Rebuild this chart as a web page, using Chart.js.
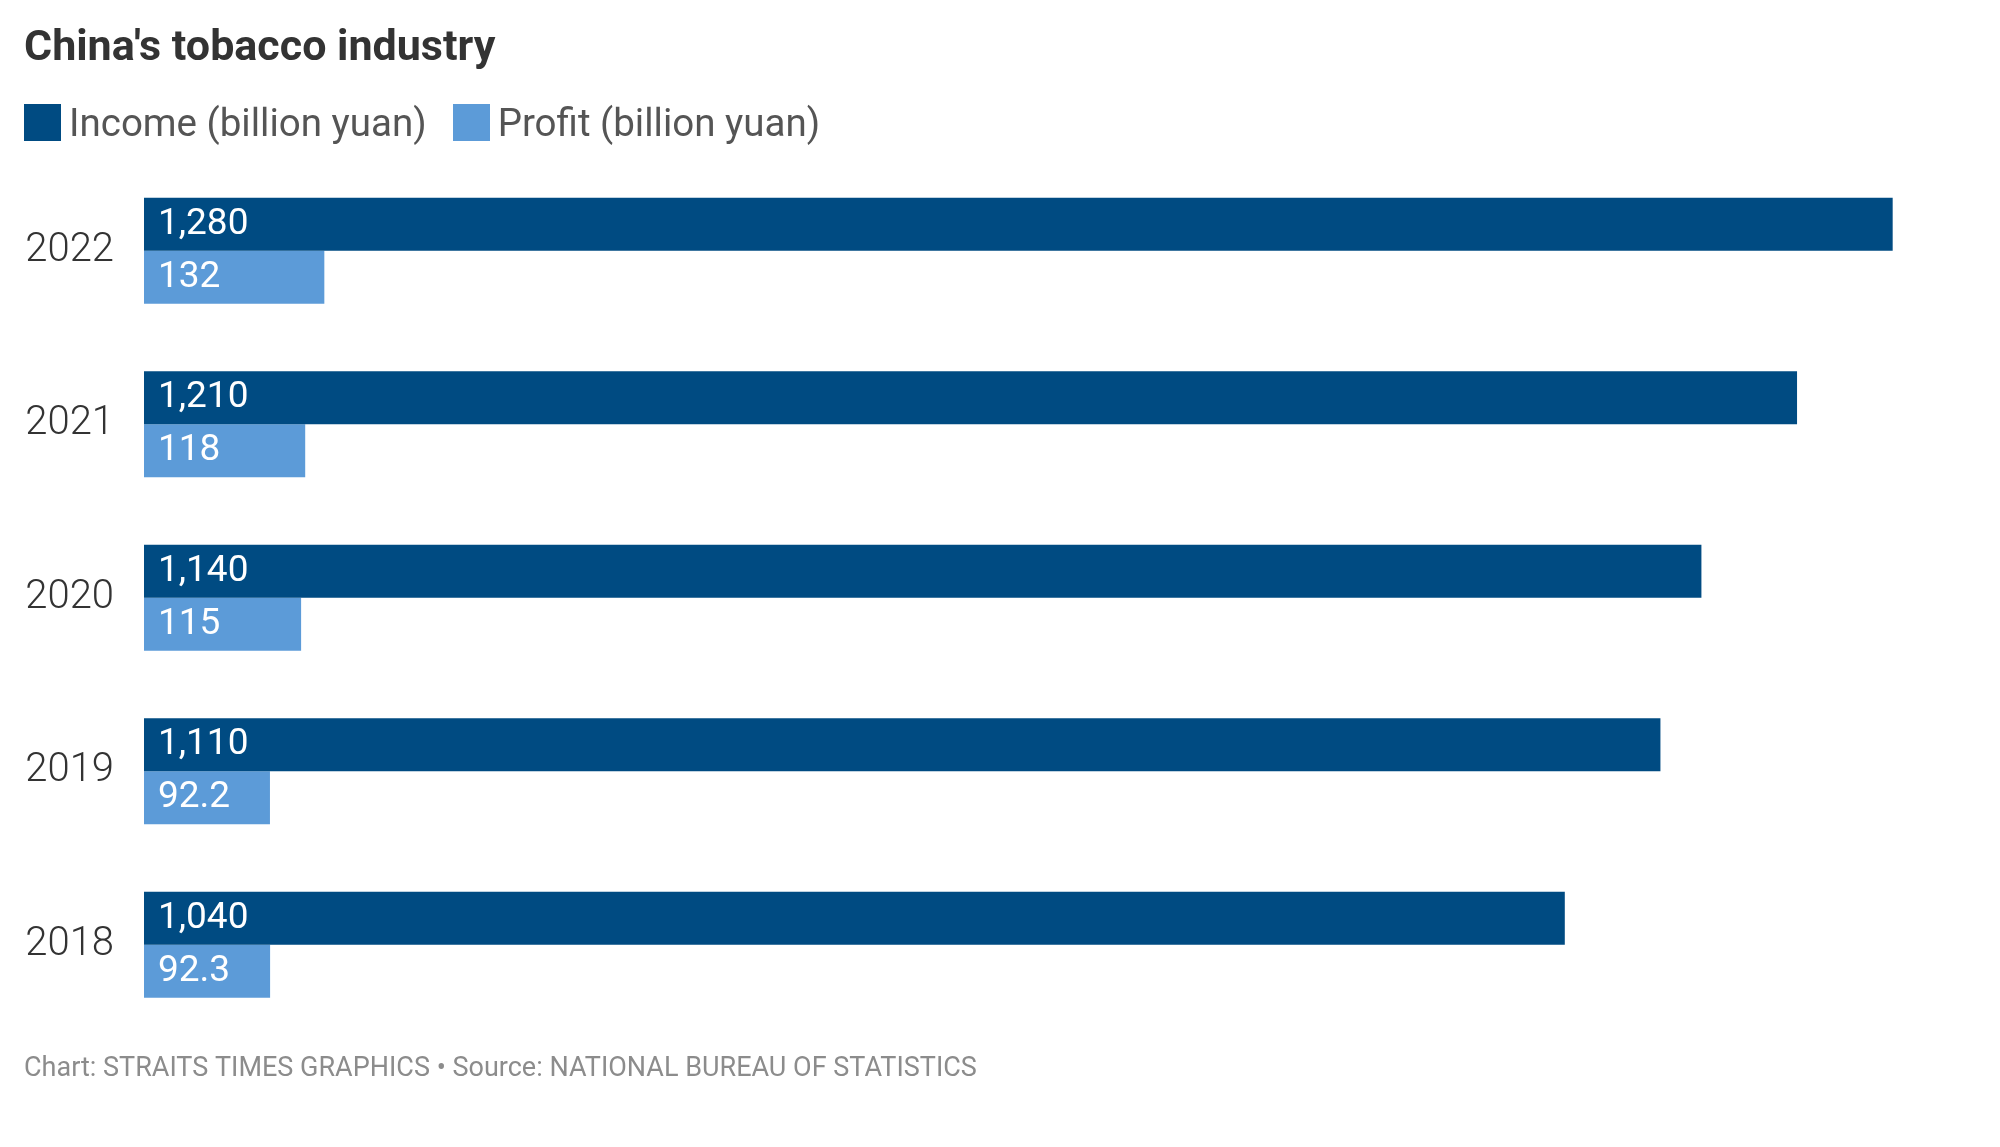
<!DOCTYPE html>
<html lang="en">
<head>
<meta charset="utf-8">
<title>China's tobacco industry</title>
<script src="https://cdn.jsdelivr.net/npm/chart.js@4.4.1/dist/chart.umd.min.js"></script>
<style>
  html, body { margin: 0; padding: 0; background: #ffffff; }
  #wrap { position: relative; width: 2000px; height: 1147px; }
  #legend {
    position: absolute; left: 24px; top: 104px;
    display: flex; align-items: center;
    font-family: Roboto, 'Liberation Sans', sans-serif;
    font-size: 38.5px; line-height: 37px; color: #555555;
  }
  .legend-item { display: flex; align-items: center; margin-right: 26px; }
  .legend-box { width: 37px; height: 37px; margin-right: 8px; }
</style>
</head>
<body>
<div id="wrap">
  <canvas id="barChart" width="2000" height="1147"></canvas>
  <div id="legend"></div>
</div>
<script>
// ==========================================
// DATA
// ==========================================
const years = ['2022', '2021', '2020', '2019', '2018'];
const income = [1280, 1210, 1140, 1110, 1040];   // billion yuan
const profit = [132, 118, 115, 92.2, 92.3];      // billion yuan
const seriesNames = ['Income (billion yuan)', 'Profit (billion yuan)'];
const seriesColors = ['#004b82', '#5c9bd8'];
const xMax = 1300;

const titleText = "China's tobacco industry";
const footerText = 'Chart: STRAITS TIMES GRAPHICS \u2022 Source: NATIONAL BUREAU OF STATISTICS';

Chart.defaults.font.family = "Roboto, 'Liberation Sans', sans-serif";

// Value labels drawn inside each bar, at its left end
const valueLabels = {
    id: 'valueLabels',
    afterDatasetsDraw(chart) {
        const ctx = chart.ctx;
        ctx.save();
        ctx.font = "37px Roboto, 'Liberation Sans', sans-serif";
        ctx.fillStyle = '#ffffff';
        ctx.textAlign = 'left';
        ctx.textBaseline = 'middle';
        chart.data.datasets.forEach((ds, i) => {
            chart.getDatasetMeta(i).data.forEach((bar, j) => {
                ctx.fillText(ds.data[j].toLocaleString('en-US'), bar.base + 14, bar.y);
            });
        });
        ctx.restore();
    }
};

// HTML legend built from the datasets (square + label, side by side)
const htmlLegend = {
    id: 'htmlLegend',
    afterUpdate(chart) {
        const box = document.getElementById('legend');
        box.innerHTML = '';
        chart.data.datasets.forEach((ds) => {
            const item = document.createElement('div');
            item.className = 'legend-item';
            const swatch = document.createElement('span');
            swatch.className = 'legend-box';
            swatch.style.background = ds.backgroundColor;
            const text = document.createElement('span');
            text.textContent = ds.label;
            item.appendChild(swatch);
            item.appendChild(text);
            box.appendChild(item);
        });
    }
};

// ==========================================
// HORIZONTAL BAR CHART
// ==========================================
const ctxBars = document.getElementById('barChart');

new Chart(ctxBars, {
    type: 'bar',
    data: {
        labels: years,
        datasets: [{
            label: seriesNames[0],
            data: income,
            backgroundColor: seriesColors[0],
            borderWidth: 0
        }, {
            label: seriesNames[1],
            data: profit,
            backgroundColor: seriesColors[1],
            borderWidth: 0
        }]
    },
    options: {
        indexAxis: 'y',
        responsive: false,
        animation: false,
        events: [],
        categoryPercentage: 0.611,
        barPercentage: 1,
        layout: { padding: { left: 24, right: 80, top: 0, bottom: 0 } },
        scales: {
            x: { display: false, min: 0, max: xMax },
            y: {
                grid: { display: false, drawTicks: false },
                border: { display: false },
                ticks: { color: '#333333', padding: 30, font: { size: 40, weight: 300 } },
                afterFit: (scale) => { scale.width = 120; }
            }
        },
        plugins: {
            title: {
                display: true,
                text: titleText,
                align: 'start',
                color: '#333333',
                font: { size: 43, weight: 'bold' },
                padding: { top: 23, bottom: 89.4 }
            },
            legend: { display: false },
            subtitle: {
                display: true,
                position: 'bottom',
                align: 'start',
                text: footerText,
                color: '#8c8c8c',
                font: { size: 27 },
                padding: { top: 21, bottom: 62 }
            },
            tooltip: { enabled: false }
        }
    },
    plugins: [valueLabels, htmlLegend]
});
</script>
</body>
</html>
